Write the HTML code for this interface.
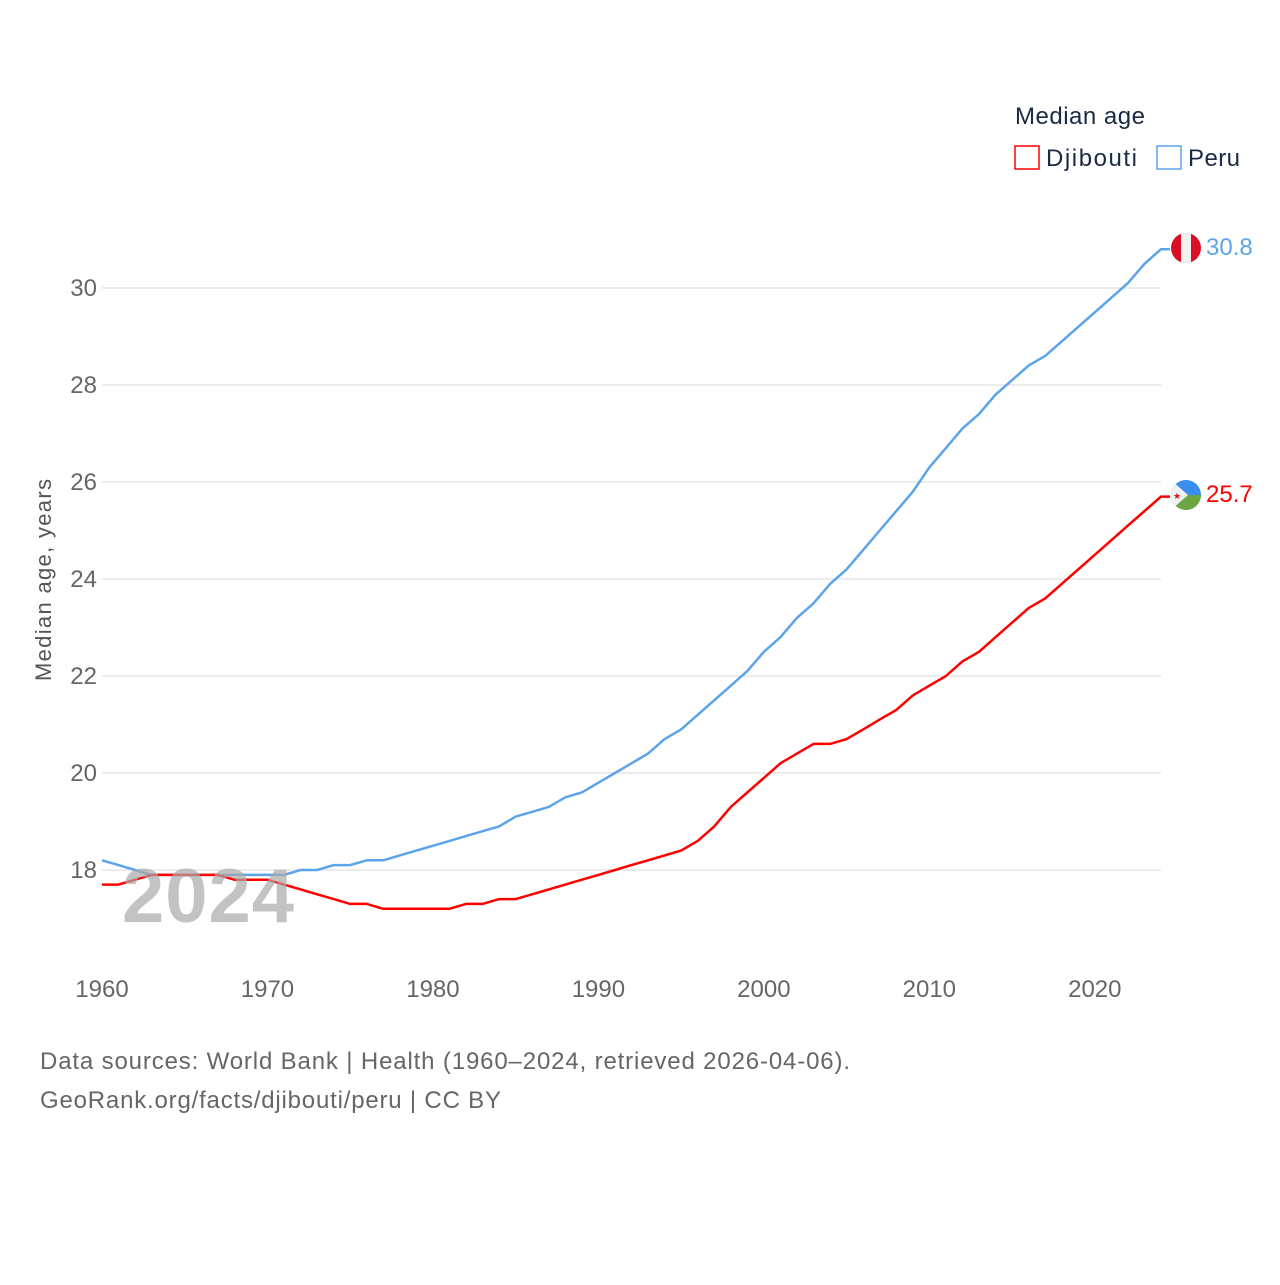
<!DOCTYPE html>
<html><head><meta charset="utf-8"><style>
body{margin:0;background:#fff;font-family:"Liberation Sans",sans-serif}
</style></head><body>
<svg id="chart" width="1280" height="1280" xmlns="http://www.w3.org/2000/svg" font-family="Liberation Sans, sans-serif">
<g id="grid"></g>
<g id="yticks"></g>
<g id="xticks"></g>
<g id="lines"></g>
<text x="122" y="922" font-size="76" font-weight="bold" fill="#aaaaaa" opacity="0.7" textLength="172">2024</text>
<text transform="translate(51,580) rotate(-90)" text-anchor="middle" font-size="22" fill="#555" textLength="202">Median age, years</text>
<g>
<text x="1015" y="124" font-size="24" fill="#1a2a44" textLength="130">Median age</text>
<g><rect x="1015" y="146" width="24" height="23" fill="none" stroke="#ff0000" stroke-width="1.5"/><text x="1046" y="166" font-size="24" fill="#1a2a44" textLength="91">Djibouti</text></g>
<g><rect x="1157" y="146" width="24" height="23" fill="none" stroke="#5ba4ea" stroke-width="1.5"/><text x="1188" y="166" font-size="24" fill="#1a2a44" textLength="52">Peru</text></g>
</g>
<g>
<clipPath id="cp1"><circle cx="1186" cy="248" r="15"/></clipPath>
<g clip-path="url(#cp1)"><rect x="1171" y="233" width="30" height="30" fill="#d91023"/><rect x="1181" y="233" width="10" height="30" fill="#f2f2f2"/></g>
</g>
<g>
<clipPath id="cp2"><circle cx="1186" cy="495" r="15"/></clipPath>
<g clip-path="url(#cp2)"><rect x="1171" y="480" width="30" height="15" fill="#3a8ef0"/><rect x="1171" y="495" width="30" height="15" fill="#6ba544"/><polygon points="1171,480 1188,495 1171,510" fill="#f2f2f2"/><text x="1173" y="499" font-size="9" fill="#d7141a">★</text></g>
</g>
<text x="1206" y="255" font-size="24" fill="#5ba4ea">30.8</text>
<text x="1206" y="502" font-size="24" fill="#ff0000">25.7</text>
<text x="40" y="1069" font-size="24" fill="#666" textLength="810">Data sources: World Bank | Health (1960–2024, retrieved 2026-04-06).</text>
<text x="40" y="1108" font-size="24" fill="#666" textLength="461">GeoRank.org/facts/djibouti/peru | CC BY</text>
</svg>
<script>
const years=[];for(let y=1960;y<=2024;y++)years.push(y);
const peru=[18.2,18.1,18.0,17.9,17.9,17.9,17.9,17.9,17.9,17.9,17.9,17.9,18.0,18.0,18.1,18.1,18.2,18.2,18.3,18.4,18.5,18.6,18.7,18.8,18.9,19.1,19.2,19.3,19.5,19.6,19.8,20.0,20.2,20.4,20.7,20.9,21.2,21.5,21.8,22.1,22.5,22.8,23.2,23.5,23.9,24.2,24.6,25.0,25.4,25.8,26.3,26.7,27.1,27.4,27.8,28.1,28.4,28.6,28.9,29.2,29.5,29.8,30.1,30.5,30.8];
const djibouti=[17.7,17.7,17.8,17.9,17.9,17.9,17.9,17.9,17.8,17.8,17.8,17.7,17.6,17.5,17.4,17.3,17.3,17.2,17.2,17.2,17.2,17.2,17.3,17.3,17.4,17.4,17.5,17.6,17.7,17.8,17.9,18.0,18.1,18.2,18.3,18.4,18.6,18.9,19.3,19.6,19.9,20.2,20.4,20.6,20.6,20.7,20.9,21.1,21.3,21.6,21.8,22.0,22.3,22.5,22.8,23.1,23.4,23.6,23.9,24.2,24.5,24.8,25.1,25.4,25.7];
const yTicks=[18,20,22,24,26,28,30];
const xTicks=[1960,1970,1980,1990,2000,2010,2020];
const NS="http://www.w3.org/2000/svg";
const xS=v=>102+(v-1960)*(1161-102)/64;
const yS=v=>870-(v-18)*48.5;
function mk(t,a,p){const e=document.createElementNS(NS,t);for(const k in a)e.setAttribute(k,a[k]);p.appendChild(e);return e;}
const grid=document.getElementById('grid'),yt=document.getElementById('yticks'),xt=document.getElementById('xticks'),ln=document.getElementById('lines');
yTicks.forEach(v=>{
 const l=mk('line',{x1:102,x2:1161,y1:yS(v),y2:yS(v),stroke:'#e6e6e6','stroke-width':1.5},grid);
 
 
 const t=mk('text',{x:97,y:yS(v)+8,'text-anchor':'end','font-size':24,fill:'#666'},yt);
 t.textContent=v;
 
 
});
xTicks.forEach(v=>{
 const t=mk('text',{x:xS(v),y:997,'text-anchor':'middle','font-size':24,fill:'#666'},xt);
 t.textContent=v;
 
 
});
function line(vals,color,name){
 let d=vals.map((v,i)=>(i?'L':'M')+xS(years[i]).toFixed(1)+','+yS(v).toFixed(1)).join(' ');
 d+=' L'+(xS(years[years.length-1])+9)+','+yS(vals[vals.length-1]).toFixed(1);
 const p=mk('path',{d:d,fill:'none',stroke:color,'stroke-width':2.5,'stroke-linejoin':'round'},ln);
 
 
}
line(peru,'#5ba4ea','peru-line');
line(djibouti,'#ff0000','djibouti-line');
</script>
</body></html>
